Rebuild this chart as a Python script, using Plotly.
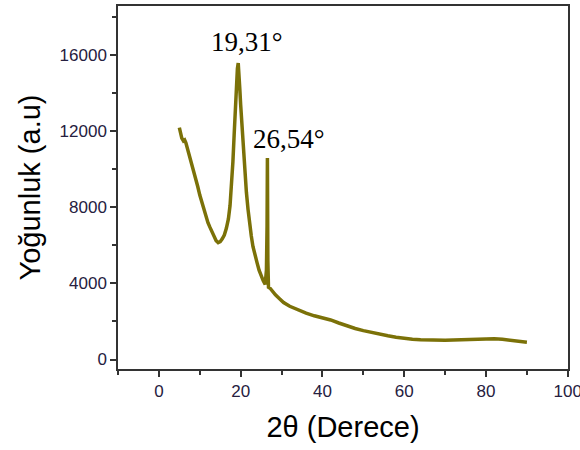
import plotly.graph_objects as go

two_theta = [5.0, 5.3, 5.6, 6.0, 6.3, 6.6, 7.0, 7.4, 7.8, 8.2, 8.6, 9.0, 9.5, 10.0, 10.5,
             11.0, 11.5, 12.0, 12.5, 13.0, 13.5, 14.0, 14.5, 15.0, 15.5, 16.0, 16.5, 17.0,
             17.4, 17.8, 18.1, 18.4, 18.7, 19.0, 19.2, 19.4, 19.6, 19.8, 20.0, 20.3, 20.6,
             21.0, 21.4, 21.8, 22.2, 22.6, 23.0, 23.5, 24.0, 24.5, 25.0, 25.5, 26.0, 26.3,
             26.45, 26.54, 26.65, 26.8, 27.2, 27.8, 28.5, 29.5, 30.5, 32, 34, 36, 38, 40,
             42, 44, 46, 48, 50, 52, 54, 56, 58, 60, 62, 64, 66, 68, 70, 72, 74, 76, 78,
             80, 82, 84, 86, 88, 90]
intensity = [12200, 11900, 11650, 11500, 11550, 11400, 11100, 10750, 10500, 10200, 9900,
             9500, 9100, 8650, 8250, 7900, 7550, 7200, 6950, 6700, 6450, 6250, 6150, 6200,
             6350, 6550, 6900, 7400, 8100, 9200, 10400, 11800, 13300, 14600, 15300, 15600,
             15100, 14200, 13400, 12300, 11200, 9900, 8800, 7900, 7100, 6500, 5950, 5450,
             5100, 4700, 4400, 4150, 3950, 4700, 7000, 10600, 5200, 3800, 3750, 3550, 3400,
             3200, 3000, 2800, 2600, 2440, 2300, 2190, 2080, 1920, 1760, 1630, 1520, 1420,
             1330, 1250, 1175, 1110, 1070, 1040, 1015, 1005, 1010, 1025, 1040, 1055, 1065,
             1080, 1090, 1060, 1010, 960, 910]

peak_labels = ["19,31°", "26,54°"]
peak_label_x = [21.5, 31.9]
peak_label_y = [16700, 11600]

x_ticks = [0, 20, 40, 60, 80, 100]
x_tick_text = ["0", "20", "40", "60", "80", "100"]
y_ticks = [0, 4000, 8000, 12000, 16000]
y_tick_text = ["0", "4000", "8000", "12000", "16000"]

line_color = "#7b7108"
axis_color = "#333333"
tick_color = "#262040"

fig = go.Figure()
fig.add_trace(go.Scatter(x=two_theta, y=intensity, mode="lines",
                         line=dict(color=line_color, width=3.5), showlegend=False))

for t, xx, yy in zip(peak_labels, peak_label_x, peak_label_y):
    fig.add_annotation(x=xx, y=yy, text=t, showarrow=False, xanchor="center", yanchor="middle",
                       font=dict(family="Liberation Serif", size=27, color="black"))

fig.update_layout(
    width=580, height=450,
    margin=dict(l=118, r=12, t=6, b=81, autoexpand=False),
    plot_bgcolor="white", paper_bgcolor="white",
    font=dict(family="Liberation Sans"),
    xaxis=dict(range=[-10, 100.05], tickvals=x_ticks, ticktext=x_tick_text, ticks="outside",
               ticklen=6, tickwidth=1.5, automargin=False, ticklabeloverflow="allow",
               tickcolor=axis_color, showline=True, linecolor=axis_color, linewidth=1.5,
               mirror=True, showgrid=False, zeroline=False,
               tickfont=dict(size=17, color=tick_color),
               minor=dict(ticks="outside", ticklen=4, tickwidth=1.5, tickcolor=axis_color,
                          dtick=10, tick0=0, showgrid=False),
               title=dict(text="2θ (Derece)", font=dict(size=29, color="black"), standoff=17)),
    yaxis=dict(range=[-500, 18600], tickvals=y_ticks, ticktext=y_tick_text, ticks="outside",
               ticklen=6, tickwidth=1.5, automargin=False,
               tickcolor=axis_color, showline=True, linecolor=axis_color, linewidth=1.5,
               mirror=True, showgrid=False, zeroline=False,
               tickfont=dict(size=17, color=tick_color),
               minor=dict(ticks="outside", ticklen=4, tickwidth=1.5, tickcolor=axis_color,
                          dtick=2000, tick0=0, showgrid=False),
               title=dict(text="Yoğunluk (a.u)", font=dict(size=29, color="black"), standoff=10)),
)

fig.write_html("out.html", config={"displayModeBar": False},
               post_script="document.body.style.margin='0';document.body.style.overflow='hidden';")
